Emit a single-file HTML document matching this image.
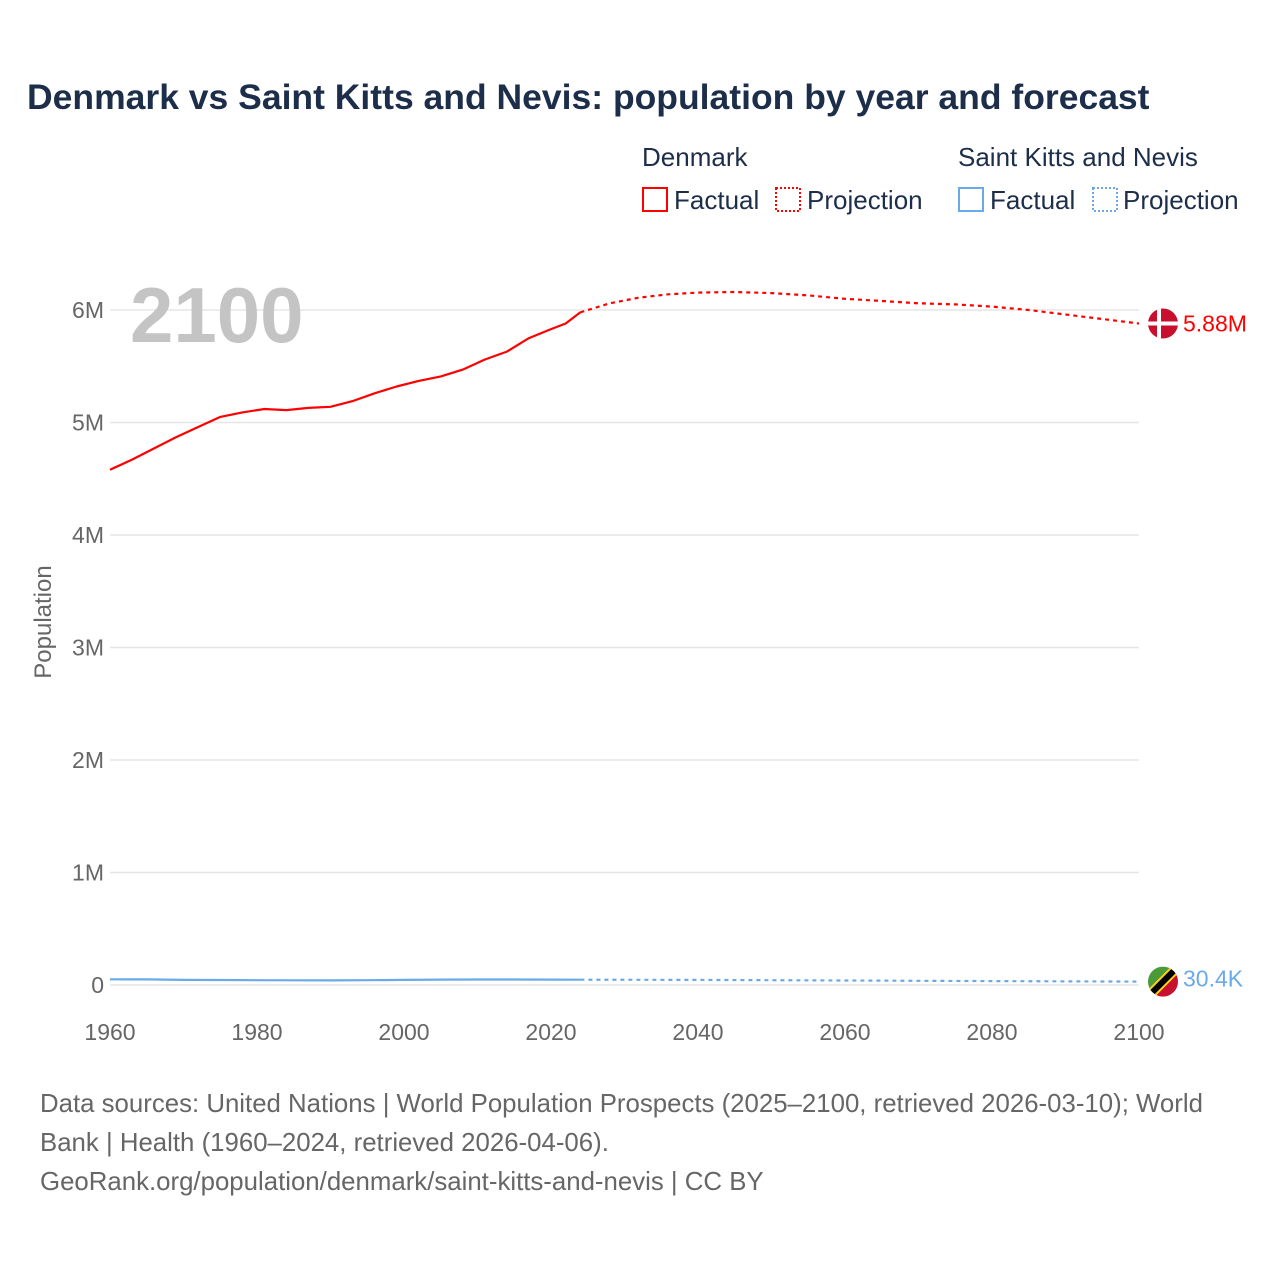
<!DOCTYPE html>
<html><head><meta charset="utf-8">
<style>
body{margin:0;background:#fff;font-family:"Liberation Sans",sans-serif;}
#wrap{position:relative;width:1280px;height:1280px;overflow:hidden;}
</style></head>
<body>
<div id="wrap">
<svg id="chart" width="1280" height="1280" xmlns="http://www.w3.org/2000/svg">
<text x="27" y="109" font-size="35.5" font-weight="bold" fill="#1c2e4a">Denmark vs Saint Kitts and Nevis: population by year and forecast</text>
<g font-size="26" fill="#1c2e4a">
<text x="642" y="166" fill="#1c2e4a">Denmark</text>
<text x="958" y="166" fill="#1c2e4a">Saint Kitts and Nevis</text>
<g><rect x="643" y="188" width="24" height="23" fill="none" stroke="#ff0000" stroke-width="2"/><text x="674" y="209" fill="#1c2e4a">Factual</text></g>
<g><rect x="776" y="188" width="24" height="23" fill="none" stroke="#ff0000" stroke-width="2" stroke-dasharray="2,2"/><text x="807" y="209" fill="#1c2e4a">Projection</text></g>
<g><rect x="959" y="188" width="24" height="23" fill="none" stroke="#6aaae8" stroke-width="2"/><text x="990" y="209" fill="#1c2e4a">Factual</text></g>
<g><rect x="1093" y="188" width="24" height="23" fill="none" stroke="#6aaae8" stroke-width="2" stroke-dasharray="2,2"/><text x="1123" y="209" fill="#1c2e4a">Projection</text></g>
</g>
<g id="grid"></g>
<text x="130" y="342" font-size="78" font-weight="bold" fill="#c4c4c4">2100</text>
<text transform="translate(51,622) rotate(-90)" text-anchor="middle" font-size="24" fill="#666">Population</text>
<g id="series"></g>
<g font-size="25.8" fill="#666">
<text x="40" y="1112">Data sources: United Nations | World Population Prospects (2025–2100, retrieved 2026-03-10); World</text>
<text x="40" y="1151">Bank | Health (1960–2024, retrieved 2026-04-06).</text>
<text x="40" y="1190">GeoRank.org/population/denmark/saint-kitts-and-nevis | CC BY</text>
</g>
</svg>
</div>
<script>
const yTicks=[0,1,2,3,4,5,6];
const yTickLabels=["0","1M","2M","3M","4M","5M","6M"];
const xTicks=[1960,1980,2000,2020,2040,2060,2080,2100];
const dkFactYears=[1960,1963,1966,1969,1972,1975,1978,1981,1984,1987,1990,1993,1996,1999,2002,2005,2008,2011,2014,2017,2020,2022,2024];
const dkFactVals=[4.58,4.67,4.77,4.87,4.96,5.05,5.09,5.12,5.11,5.13,5.14,5.19,5.26,5.32,5.37,5.41,5.47,5.56,5.63,5.75,5.83,5.88,5.98];
const dkProjYears=[2024,2028,2032,2036,2040,2045,2050,2055,2060,2065,2070,2075,2080,2085,2090,2095,2100];
const dkProjVals=[5.98,6.06,6.11,6.14,6.155,6.16,6.15,6.13,6.10,6.08,6.06,6.05,6.03,6.00,5.96,5.92,5.88];
const sknFactYears=[1960,1965,1970,1975,1980,1985,1990,1995,2000,2005,2010,2015,2020,2024];
const sknFactVals=[0.051,0.050,0.045,0.044,0.043,0.042,0.041,0.043,0.045,0.048,0.049,0.049,0.048,0.047];
const sknProjYears=[2024,2040,2060,2080,2100];
const sknProjVals=[0.047,0.045,0.040,0.035,0.0304];
const X0=110,X1=1139,Y0=985,PXM=112.5;
const xs=y=>X0+(y-1960)*(X1-X0)/140;
const ys=v=>Y0-v*PXM;
const NS="http://www.w3.org/2000/svg";
const grid=document.getElementById('grid'),ser=document.getElementById('series');
function mk(tag,attrs,parent){const e=document.createElementNS(NS,tag);for(const k in attrs)e.setAttribute(k,attrs[k]);parent.appendChild(e);return e;}
yTicks.forEach((t,i)=>{
 const l=mk('line',{x1:X0,x2:X1,y1:ys(t),y2:ys(t),stroke:'#e6e6e6','stroke-width':1.5},grid);
 
 
 const tx=mk('text',{x:104,y:ys(t)+8,'text-anchor':'end','font-size':23,fill:'#666'},grid);
 tx.textContent=yTickLabels[i];
 
 
});
xTicks.forEach(t=>{
 const tx=mk('text',{x:xs(t),y:1040,'text-anchor':'middle','font-size':23,fill:'#666'},grid);
 tx.textContent=t;
 
 
});
function path(years,vals,color,dash,name){
 const d=years.map((y,i)=>(i?'L':'M')+xs(y).toFixed(1)+','+ys(vals[i]).toFixed(1)).join(' ');
 const p=mk('path',{d:d,fill:'none',stroke:color,'stroke-width':2.2,'stroke-linejoin':'round'},ser);
 if(dash)p.setAttribute('stroke-dasharray',dash);
 
 
}
path(dkFactYears,dkFactVals,'#ff0000',null,'denmark-factual-line');
path(dkProjYears,dkProjVals,'#ff0000','4,4','denmark-projection-line');
path(sknFactYears,sknFactVals,'#6aaae8',null,'skn-factual-line');
path(sknProjYears,sknProjVals,'#6aaae8','4,4','skn-projection-line');
const dkY=ys(dkProjVals[dkProjVals.length-1]),fx=1163;
const g1=mk('g',{},ser);


mk('defs',{},g1).innerHTML='<clipPath id="c1"><circle cx="'+fx+'" cy="'+dkY+'" r="15"/></clipPath><clipPath id="c2"><circle cx="'+fx+'" cy="'+ys(0.0304)+'" r="15"/></clipPath>';
const fg=mk('g',{'clip-path':'url(#c1)'},g1);
mk('rect',{x:fx-15,y:dkY-15,width:30,height:30,fill:'#c8102e'},fg);
mk('rect',{x:fx-6,y:dkY-15,width:4,height:30,fill:'#fff'},fg);
mk('rect',{x:fx-15,y:dkY-2,width:30,height:4,fill:'#fff'},fg);
const t1=mk('text',{x:1183,y:dkY+8,'font-size':23,fill:'#ff0000'},g1);
t1.textContent='5.88M';
const sY=ys(sknProjVals[sknProjVals.length-1]);
const g2=mk('g',{},ser);


const sg=mk('g',{'clip-path':'url(#c2)'},g2);
mk('polygon',{points:`${fx-15},${sY-15} ${fx+15},${sY-15} ${fx-15},${sY+15}`,fill:'#4a9a3a'},sg);
mk('polygon',{points:`${fx+15},${sY-15} ${fx+15},${sY+15} ${fx-15},${sY+15}`,fill:'#c8102e'},sg);
mk('line',{x1:fx-15,y1:sY+15,x2:fx+15,y2:sY-15,stroke:'#fcd116','stroke-width':10},sg);
mk('line',{x1:fx-15,y1:sY+15,x2:fx+15,y2:sY-15,stroke:'#000','stroke-width':6},sg);
const t2=mk('text',{x:1183,y:sY+5,'font-size':23,fill:'#6aaae8'},g2);
t2.textContent='30.4K';
</script>
</body></html>
